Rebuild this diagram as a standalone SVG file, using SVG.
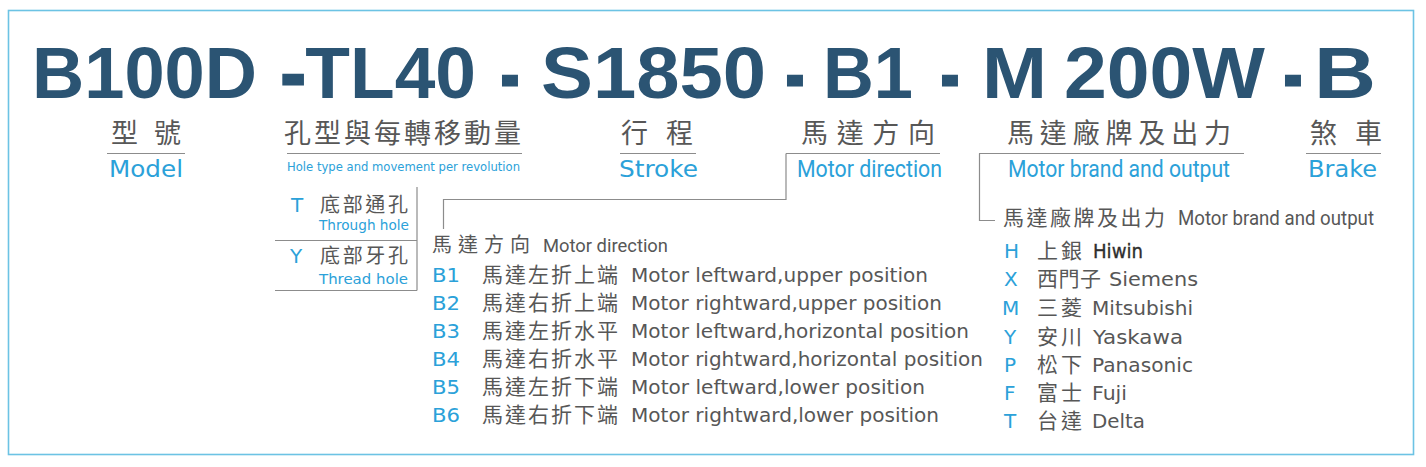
<svg xmlns="http://www.w3.org/2000/svg" width="1426" height="467" viewBox="0 0 1426 467">
<style>
.t{font-family:"Liberation Sans",Arial,sans-serif;font-weight:bold;font-size:72px;fill:#2b5473}
.d{stroke:#2b5473;stroke-width:3;stroke-linejoin:miter}
.cj{font-family:"Noto Sans CJK TC","Noto Sans CJK SC",sans-serif;fill:#575757}
.gr{fill:#575757}
.dk{fill:#2e2e2e;stroke:#2e2e2e;stroke-width:0.35}
.bl{fill:#2ba1d9}
.en{font-family:"DejaVu Sans",sans-serif}
.cn{font-family:Roboto,"Liberation Sans",sans-serif}
.ln{stroke:#8c8c8c;stroke-width:1.2;fill:none}
</style>
<rect x="8.5" y="10.5" width="1405" height="444" fill="#ffffff" stroke="#6cc3e4" stroke-width="1.6"/>

<g id="title">
<text class="t" x="32" y="98" textLength="225" lengthAdjust="spacingAndGlyphs">B100D</text>
<text class="t" x="281" y="98" textLength="195" lengthAdjust="spacingAndGlyphs"><tspan class="d">-</tspan>TL40</text>
<text class="t d" x="501" y="99" textLength="18" lengthAdjust="spacingAndGlyphs">-</text>
<text class="t" x="541" y="98" textLength="225" lengthAdjust="spacingAndGlyphs">S1850</text>
<text class="t d" x="786" y="99" textLength="18" lengthAdjust="spacingAndGlyphs">-</text>
<text class="t" x="823" y="98" textLength="90" lengthAdjust="spacingAndGlyphs">B1</text>
<text class="t d" x="941" y="99" textLength="18" lengthAdjust="spacingAndGlyphs">-</text>
<text class="t" x="982" y="98" textLength="65" lengthAdjust="spacingAndGlyphs">M</text>
<text class="t" x="1064" y="98" textLength="201" lengthAdjust="spacingAndGlyphs">200W</text>
<text class="t d" x="1284" y="99" textLength="18" lengthAdjust="spacingAndGlyphs">-</text>
<text class="t" x="1314" y="98" textLength="62" lengthAdjust="spacingAndGlyphs">B</text>
</g>

<g id="model">
<text class="cj" x="111" y="143" font-size="27" textLength="70" lengthAdjust="spacing">型 號</text>
<line class="ln" x1="107" y1="153.5" x2="185" y2="153.5"/>
<text class="en bl" x="109" y="177" font-size="23" textLength="74" lengthAdjust="spacingAndGlyphs">Model</text>
</g>

<g id="hole-type">
<text class="cj" x="284" y="143" font-size="27" textLength="237" lengthAdjust="spacing">孔型與每轉移動量</text>
<line class="ln" x1="287" y1="153.5" x2="522" y2="153.5"/>
<text class="en bl" x="287" y="171" font-size="12" textLength="233" lengthAdjust="spacingAndGlyphs">Hole type and movement per revolution</text>
</g>

<g id="hole-options">
<line class="ln" x1="417" y1="187" x2="417" y2="290.5"/>
<line class="ln" x1="275" y1="240.5" x2="417" y2="240.5"/>
<line class="ln" x1="275" y1="290.5" x2="417" y2="290.5"/>
<text class="en bl" x="291" y="212" font-size="20">T</text>
<text class="cj" x="320" y="212" font-size="20" textLength="88" lengthAdjust="spacing">底部通孔</text>
<text class="en bl" x="319" y="230" font-size="14" textLength="90" lengthAdjust="spacingAndGlyphs">Through hole</text>
<text class="en bl" x="290" y="263" font-size="20">Y</text>
<text class="cj" x="320" y="263" font-size="20" textLength="88" lengthAdjust="spacing">底部牙孔</text>
<text class="en bl" x="319" y="284" font-size="14" textLength="89" lengthAdjust="spacingAndGlyphs">Thread hole</text>
</g>

<g id="stroke">
<text class="cj" x="621" y="143" font-size="27" textLength="72" lengthAdjust="spacing">行 程</text>
<line class="ln" x1="620" y1="153.5" x2="696" y2="153.5"/>
<text class="en bl" x="619" y="177" font-size="23" textLength="79" lengthAdjust="spacingAndGlyphs">Stroke</text>
</g>

<g id="motor-direction">
<text class="cj" x="801" y="143" font-size="27" textLength="134" lengthAdjust="spacing">馬達方向</text>
<line class="ln" x1="786" y1="153.5" x2="940" y2="153.5"/>
<text class="cn bl" x="797" y="177" font-size="24" textLength="145" lengthAdjust="spacingAndGlyphs">Motor direction</text>
</g>

<g id="direction-options">
<text class="cj" x="432" y="252" font-size="20" textLength="98" lengthAdjust="spacing">馬達方向</text>
<text class="cn gr" x="543" y="252" font-size="19" textLength="125" lengthAdjust="spacingAndGlyphs">Motor direction</text>
<text class="en bl" x="432" y="282" font-size="20" textLength="28" lengthAdjust="spacingAndGlyphs">B1</text>
<text class="cj" x="482" y="282" font-size="21" textLength="136" lengthAdjust="spacing">馬達左折上端</text>
<text class="en gr" x="631" y="282" font-size="19" textLength="297" lengthAdjust="spacingAndGlyphs">Motor leftward,upper position</text>
<text class="en bl" x="432" y="310" font-size="20" textLength="28" lengthAdjust="spacingAndGlyphs">B2</text>
<text class="cj" x="482" y="310" font-size="21" textLength="136" lengthAdjust="spacing">馬達右折上端</text>
<text class="en gr" x="631" y="310" font-size="19" textLength="311" lengthAdjust="spacingAndGlyphs">Motor rightward,upper position</text>
<text class="en bl" x="432" y="338" font-size="20" textLength="28" lengthAdjust="spacingAndGlyphs">B3</text>
<text class="cj" x="482" y="338" font-size="21" textLength="136" lengthAdjust="spacing">馬達左折水平</text>
<text class="en gr" x="631" y="338" font-size="19" textLength="338" lengthAdjust="spacingAndGlyphs">Motor leftward,horizontal position</text>
<text class="en bl" x="432" y="366" font-size="20" textLength="28" lengthAdjust="spacingAndGlyphs">B4</text>
<text class="cj" x="482" y="366" font-size="21" textLength="136" lengthAdjust="spacing">馬達右折水平</text>
<text class="en gr" x="631" y="366" font-size="19" textLength="352" lengthAdjust="spacingAndGlyphs">Motor rightward,horizontal position</text>
<text class="en bl" x="432" y="394" font-size="20" textLength="28" lengthAdjust="spacingAndGlyphs">B5</text>
<text class="cj" x="482" y="394" font-size="21" textLength="136" lengthAdjust="spacing">馬達左折下端</text>
<text class="en gr" x="631" y="394" font-size="19" textLength="294" lengthAdjust="spacingAndGlyphs">Motor leftward,lower position</text>
<text class="en bl" x="432" y="422" font-size="20" textLength="28" lengthAdjust="spacingAndGlyphs">B6</text>
<text class="cj" x="482" y="422" font-size="21" textLength="136" lengthAdjust="spacing">馬達右折下端</text>
<text class="en gr" x="631" y="422" font-size="19" textLength="308" lengthAdjust="spacingAndGlyphs">Motor rightward,lower position</text>
</g>

<g id="motor-brand">
<text class="cj" x="1007" y="143" font-size="27" textLength="224" lengthAdjust="spacing">馬達廠牌及出力</text>
<line class="ln" x1="979" y1="153.5" x2="1244" y2="153.5"/>
<text class="cn bl" x="1008" y="177" font-size="24" textLength="222" lengthAdjust="spacingAndGlyphs">Motor brand and output</text>
</g>

<g id="brand-options">
<text class="cj" x="1003" y="225" font-size="21" textLength="162" lengthAdjust="spacing">馬達廠牌及出力</text>
<text class="cn gr" x="1178" y="225" font-size="20" textLength="196" lengthAdjust="spacingAndGlyphs">Motor brand and output</text>
<text class="en bl" x="1004" y="258" font-size="20">H</text>
<text class="cj" x="1037" y="258" font-size="21" textLength="45" lengthAdjust="spacing">上銀</text>
<text class="en dk" x="1093" y="258" font-size="19" textLength="50" lengthAdjust="spacingAndGlyphs">Hiwin</text>
<text class="en bl" x="1004" y="286" font-size="20">X</text>
<text class="cj" x="1037" y="286" font-size="21" textLength="64" lengthAdjust="spacing">西門子</text>
<text class="en gr" x="1109" y="286" font-size="19" textLength="89" lengthAdjust="spacingAndGlyphs">Siemens</text>
<text class="en bl" x="1002" y="315" font-size="20">M</text>
<text class="cj" x="1037" y="315" font-size="21" textLength="45" lengthAdjust="spacing">三菱</text>
<text class="en gr" x="1092" y="315" font-size="19" textLength="101" lengthAdjust="spacingAndGlyphs">Mitsubishi</text>
<text class="en bl" x="1004" y="344" font-size="20">Y</text>
<text class="cj" x="1037" y="344" font-size="21" textLength="45" lengthAdjust="spacing">安川</text>
<text class="en gr" x="1093" y="344" font-size="19" textLength="90" lengthAdjust="spacingAndGlyphs">Yaskawa</text>
<text class="en bl" x="1004" y="372" font-size="20">P</text>
<text class="cj" x="1037" y="372" font-size="21" textLength="45" lengthAdjust="spacing">松下</text>
<text class="en gr" x="1092" y="372" font-size="19" textLength="101" lengthAdjust="spacingAndGlyphs">Panasonic</text>
<text class="en bl" x="1004" y="400" font-size="20">F</text>
<text class="cj" x="1037" y="400" font-size="21" textLength="45" lengthAdjust="spacing">富士</text>
<text class="en gr" x="1092" y="400" font-size="19" textLength="35" lengthAdjust="spacingAndGlyphs">Fuji</text>
<text class="en bl" x="1004" y="428" font-size="20">T</text>
<text class="cj" x="1037" y="428" font-size="21" textLength="45" lengthAdjust="spacing">台達</text>
<text class="en gr" x="1092" y="428" font-size="19" textLength="53" lengthAdjust="spacingAndGlyphs">Delta</text>
</g>

<g id="brake">
<text class="cj" x="1310" y="143" font-size="27" textLength="72" lengthAdjust="spacing">煞 車</text>
<line class="ln" x1="1306" y1="153.5" x2="1381" y2="153.5"/>
<text class="en bl" x="1308" y="177" font-size="23" textLength="69" lengthAdjust="spacingAndGlyphs">Brake</text>
</g>

<g id="connectors">
<path class="ln" d="M786,153.5 V199.5 H443.5 V229"/>
<path class="ln" d="M979.5,153.5 V220.5 H995"/>
</g>
</svg>
